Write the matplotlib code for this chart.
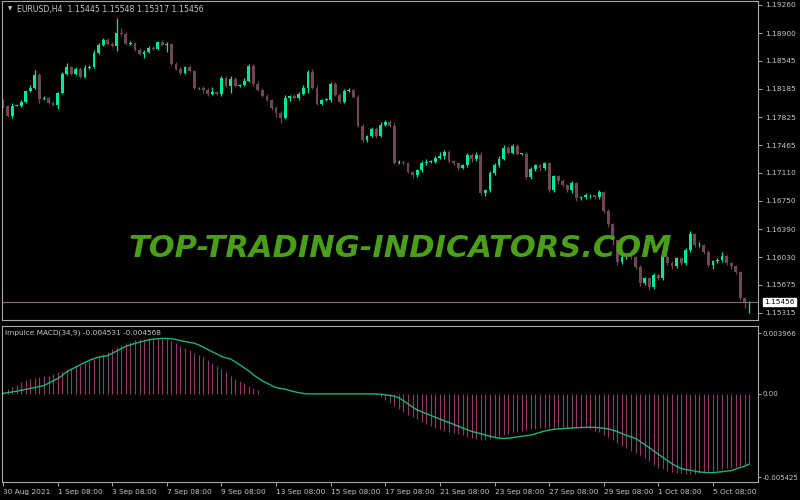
import matplotlib
matplotlib.use("Agg")
import matplotlib.pyplot as plt
import numpy as np

first_open = 1.18034
closes = [1.17970,1.17843,1.17970,1.17970,1.18021,1.18162,1.18200,1.18366,1.18060,1.18072,
1.18009,1.17983,1.18136,1.18379,1.18468,1.18379,1.18443,1.18341,1.18455,1.18468,
1.18647,1.18749,1.18813,1.18762,1.18736,1.18902,1.18890,1.18762,1.18775,1.18685,
1.18634,1.18660,1.18711,1.18698,1.18787,1.18749,1.18762,1.18506,1.18443,1.18392,
1.18468,1.18417,1.18200,1.18200,1.18175,1.18123,1.18149,1.18123,1.18328,1.18226,
1.18315,1.18226,1.18238,1.18289,1.18481,1.18251,1.18175,1.18098,1.18047,1.17945,
1.17881,1.17817,1.18072,1.18098,1.18072,1.18123,1.18200,1.18404,1.18200,1.17996,
1.18047,1.18047,1.18251,1.18111,1.18021,1.18162,1.18175,1.18085,1.17715,1.17536,
1.17587,1.17676,1.17587,1.17728,1.17766,1.17715,1.17242,1.17255,1.17230,1.17127,
1.17076,1.17140,1.17230,1.17255,1.17255,1.17306,1.17332,1.17383,1.17268,1.17230,
1.17178,1.17204,1.17344,1.17281,1.17344,1.16846,1.16885,1.17102,1.17204,1.17293,
1.17434,1.17370,1.17459,1.17357,1.17357,1.17051,1.17153,1.17204,1.17166,1.17230,
1.16885,1.17064,1.17000,1.16949,1.16885,1.16974,1.16790,1.16795,1.16821,1.16821,
1.16795,1.16859,1.16617,1.16451,1.16246,1.15965,1.16029,1.16067,1.16029,1.15901,
1.15697,1.15761,1.15646,1.15799,1.15761,1.16029,1.15953,1.15914,1.16016,1.15953,
1.16119,1.16323,1.16182,1.16182,1.16093,1.15927,1.15978,1.15991,1.16042,1.15953,
1.15914,1.15838,1.15506,1.15445,1.15456]
# wick lengths in pips (0.0001)
up_wick = [2,1,3,1,2,1,3,6,2,2,1,2,1,2,5,1,2,2,4,2,3,2,3,2,2,19,6,2,2,1,2,2,3,2,1,2,2,1,2,2,
1,2,1,1,2,2,6,1,2,2,3,2,1,3,2,2,3,2,2,1,2,2,3,1,2,2,4,2,3,3,1,2,2,2,2,2,2,1,2,2,
1,2,2,3,2,2,4,2,1,2,1,2,3,3,2,2,4,2,2,1,2,2,2,2,3,3,2,3,3,3,3,2,2,2,1,2,3,2,2,2,
2,2,2,3,2,3,2,2,3,2,1,3,2,3,2,2,3,2,5,2,3,2,2,3,2,2,2,3,2,2,3,4,2,4,2,3,2,3,6,2,2,2,2,2,1]
dn_wick = [3,2,3,1,2,2,2,2,6,2,2,2,5,2,2,2,2,2,2,2,2,2,2,2,2,7,3,2,2,2,2,5,2,2,2,2,9,2,2,3,
2,2,2,2,4,3,2,2,3,2,9,2,2,2,2,3,2,2,2,3,6,7,2,4,2,3,2,7,2,2,2,2,3,2,2,2,2,2,2,3,
3,2,3,2,2,2,2,2,2,2,3,2,2,2,2,2,2,4,3,2,3,2,2,3,2,2,3,2,2,2,2,2,2,2,2,2,2,2,3,2,
2,2,3,2,2,3,4,3,2,3,2,2,2,3,6,4,2,2,2,2,4,3,4,3,2,3,2,4,2,2,2,2,2,2,2,2,5,2,2,2,3,3,3,6,13]

hist = [0.15,0.3,0.45,0.6,0.75,0.9,1.0,1.05,1.1,1.15,
1.2,1.3,1.4,1.5,1.6,1.7,1.8,1.9,2.0,2.15,
2.3,2.45,2.6,2.75,2.9,3.05,3.2,3.3,3.4,3.5,
3.55,3.6,3.62,3.64,3.63,3.6,3.55,3.45,3.3,3.15,
3.0,2.85,2.7,2.55,2.4,2.2,2.0,1.8,1.6,1.4,
1.2,1.0,0.85,0.7,0.55,0.4,0.25,0,0,0,
0,0,0,0,0,0,0,0,0,0,0,0,0,0,0,0,0,0,0,0,
0,0,-0.05,-0.2,-0.4,-0.6,-0.8,-1.0,-1.2,-1.35,
-1.5,-1.65,-1.8,-1.95,-2.1,-2.2,-2.3,-2.4,-2.5,-2.55,
-2.6,-2.7,-2.8,-2.9,-2.95,-3.0,-3.0,-2.95,-2.9,-2.8,
-2.7,-2.6,-2.5,-2.45,-2.4,-2.35,-2.3,-2.3,-2.25,-2.25,
-2.2,-2.2,-2.2,-2.2,-2.2,-2.2,-2.2,-2.25,-2.25,-2.3,
-2.4,-2.5,-2.65,-2.8,-3.0,-3.2,-3.4,-3.55,-3.7,-3.85,
-4.0,-4.2,-4.4,-4.6,-4.8,-4.9,-5.0,-5.1,-5.15,-5.18,
-5.2,-5.2,-5.2,-5.15,-5.1,-5.05,-5.0,-4.95,-4.9,-4.85,
-4.8,-4.75,-4.7,-4.62,-4.531]
signal = [0.04,0.08,0.13,0.18,0.24,0.3,0.36,0.42,0.48,0.55,
0.7,0.85,1.0,1.2,1.45,1.6,1.75,1.9,2.05,2.2,
2.3,2.4,2.45,2.5,2.65,2.8,2.95,3.1,3.2,3.3,
3.38,3.45,3.52,3.57,3.6,3.62,3.62,3.6,3.55,3.48,
3.42,3.36,3.31,3.2,3.05,2.9,2.75,2.6,2.45,2.35,
2.28,2.1,1.9,1.7,1.5,1.25,1.04,0.85,0.7,0.55,
0.42,0.35,0.31,0.22,0.15,0.08,0.03,0.01,0,0,
0,0,0,0,0,0,0,0,0,0,
0,0,0,-0.02,-0.06,-0.1,-0.15,-0.25,-0.45,-0.65,
-0.85,-1.04,-1.16,-1.28,-1.4,-1.52,-1.64,-1.75,-1.86,-1.98,
-2.1,-2.22,-2.33,-2.44,-2.52,-2.59,-2.68,-2.76,-2.83,-2.88,
-2.9,-2.88,-2.85,-2.8,-2.76,-2.72,-2.68,-2.6,-2.5,-2.42,
-2.36,-2.31,-2.28,-2.26,-2.24,-2.22,-2.2,-2.19,-2.18,-2.17,
-2.18,-2.2,-2.24,-2.28,-2.36,-2.46,-2.58,-2.7,-2.8,-2.9,
-3.1,-3.3,-3.5,-3.72,-3.93,-4.14,-4.35,-4.55,-4.72,-4.85,
-4.93,-4.97,-5.03,-5.08,-5.11,-5.13,-5.13,-5.1,-5.07,-5.03,
-5.0,-4.9,-4.8,-4.7,-4.568]

price_ticks = [1.19260,1.18900,1.18545,1.18185,1.17825,1.17465,1.17110,1.16750,1.16390,1.16030,1.15675,1.15315]
date_labels = ["30 Aug 2021","1 Sep 08:00","3 Sep 08:00","7 Sep 08:00","9 Sep 08:00","13 Sep 08:00",
"15 Sep 08:00","17 Sep 08:00","21 Sep 08:00","23 Sep 08:00","27 Sep 08:00","29 Sep 08:00","1 Oct 08:00","5 Oct 08:00"]
last_price = 1.15456

BULL = "#00e69a"; BEAR = "#6e4656"; TXT = "#c8c8c8"; FR = "#a8a8a8"
FS = 5.3
n = len(closes)
x = np.arange(n)
closes = np.array(closes)
opens = np.concatenate([[first_open], closes[:-1]])
hi = np.maximum(opens, closes) + np.array(up_wick) * 1e-4
lo = np.minimum(opens, closes) - np.array(dn_wick) * 1e-4

fig = plt.figure(figsize=(8, 5), dpi=100, facecolor="black")
ax = fig.add_axes([0.0025, 0.36, 0.945, 0.638])
ax2 = fig.add_axes([0.0025, 0.036, 0.945, 0.312])
xl = (-0.22, 165.9)
for a in (ax, ax2):
    a.set_facecolor("black")
    a.set_xlim(*xl)
    for s in a.spines.values():
        s.set_color(FR); s.set_linewidth(0.8)
    a.tick_params(colors=TXT, labelsize=FS, length=3, width=0.6, direction="out", pad=2)
    a.yaxis.tick_right()

up = closes >= opens
cols = np.where(up, BULL, BEAR)
ax.vlines(x, lo, hi, colors=cols, linewidth=0.9)
h = np.abs(closes - opens)
ax.bar(x, np.maximum(h, 0.00003), bottom=np.minimum(opens, closes), width=0.62, color=cols, linewidth=0)
ax.axhline(last_price, color="#8a6a7a", linewidth=0.8)
ax.set_ylim(1.15225, 1.19311)
ax.set_yticks(price_ticks)
ax.set_yticklabels([f"{v:.5f}" for v in price_ticks])
ax.set_xticks([])
ax.text(1.008, last_price, f"{last_price:.5f}", transform=ax.get_yaxis_transform(), fontsize=FS,
        color="black", va="center", ha="left", bbox=dict(facecolor="white", edgecolor="white", pad=1.0))
ax.text(0.008, 0.985, "\u25bc", transform=ax.transAxes, fontsize=4, color=TXT, va="top")
ax.text(0.02, 0.988, "EURUSD,H4  1.15445 1.15548 1.15317 1.15456", transform=ax.transAxes,
        fontsize=FS + 0.3, color=TXT, va="top")
fig.text(0.5, 0.503, "TOP-TRADING-INDICATORS.COM", fontsize=22, color="#4a9e1a", fontweight="bold",
         style="italic", ha="center", va="center", zorder=10)

hist_v = np.array(hist) * 1e-3
sig_v = np.array(signal) * 1e-3
ax2.vlines(x, 0, hist_v, colors="#8e3c6c", linewidth=0.8)
ax2.plot(x, sig_v, color="#1fb278", linewidth=1.0)
ax2.set_ylim(-0.00574, 0.00443)
ax2.set_yticks([0.003966, 0.0, -0.005425])
ax2.set_yticklabels(["0.003966", "0.00", "-0.005425"])
ax2.tick_params(axis="y", length=2, pad=1, labelsize=5.0)
ax2.text(0.004, 0.975, "Impulce MACD(34,9) -0.004531 -0.004568", transform=ax2.transAxes,
         fontsize=FS, color=TXT, va="top")
ticks = np.arange(len(date_labels)) * 12
ax2.set_xticks(ticks)
ax2.set_xticklabels(date_labels, ha="left")
ax2.tick_params(axis="x", length=3, pad=2)

fig.savefig("out.png", dpi=100, facecolor="black")
